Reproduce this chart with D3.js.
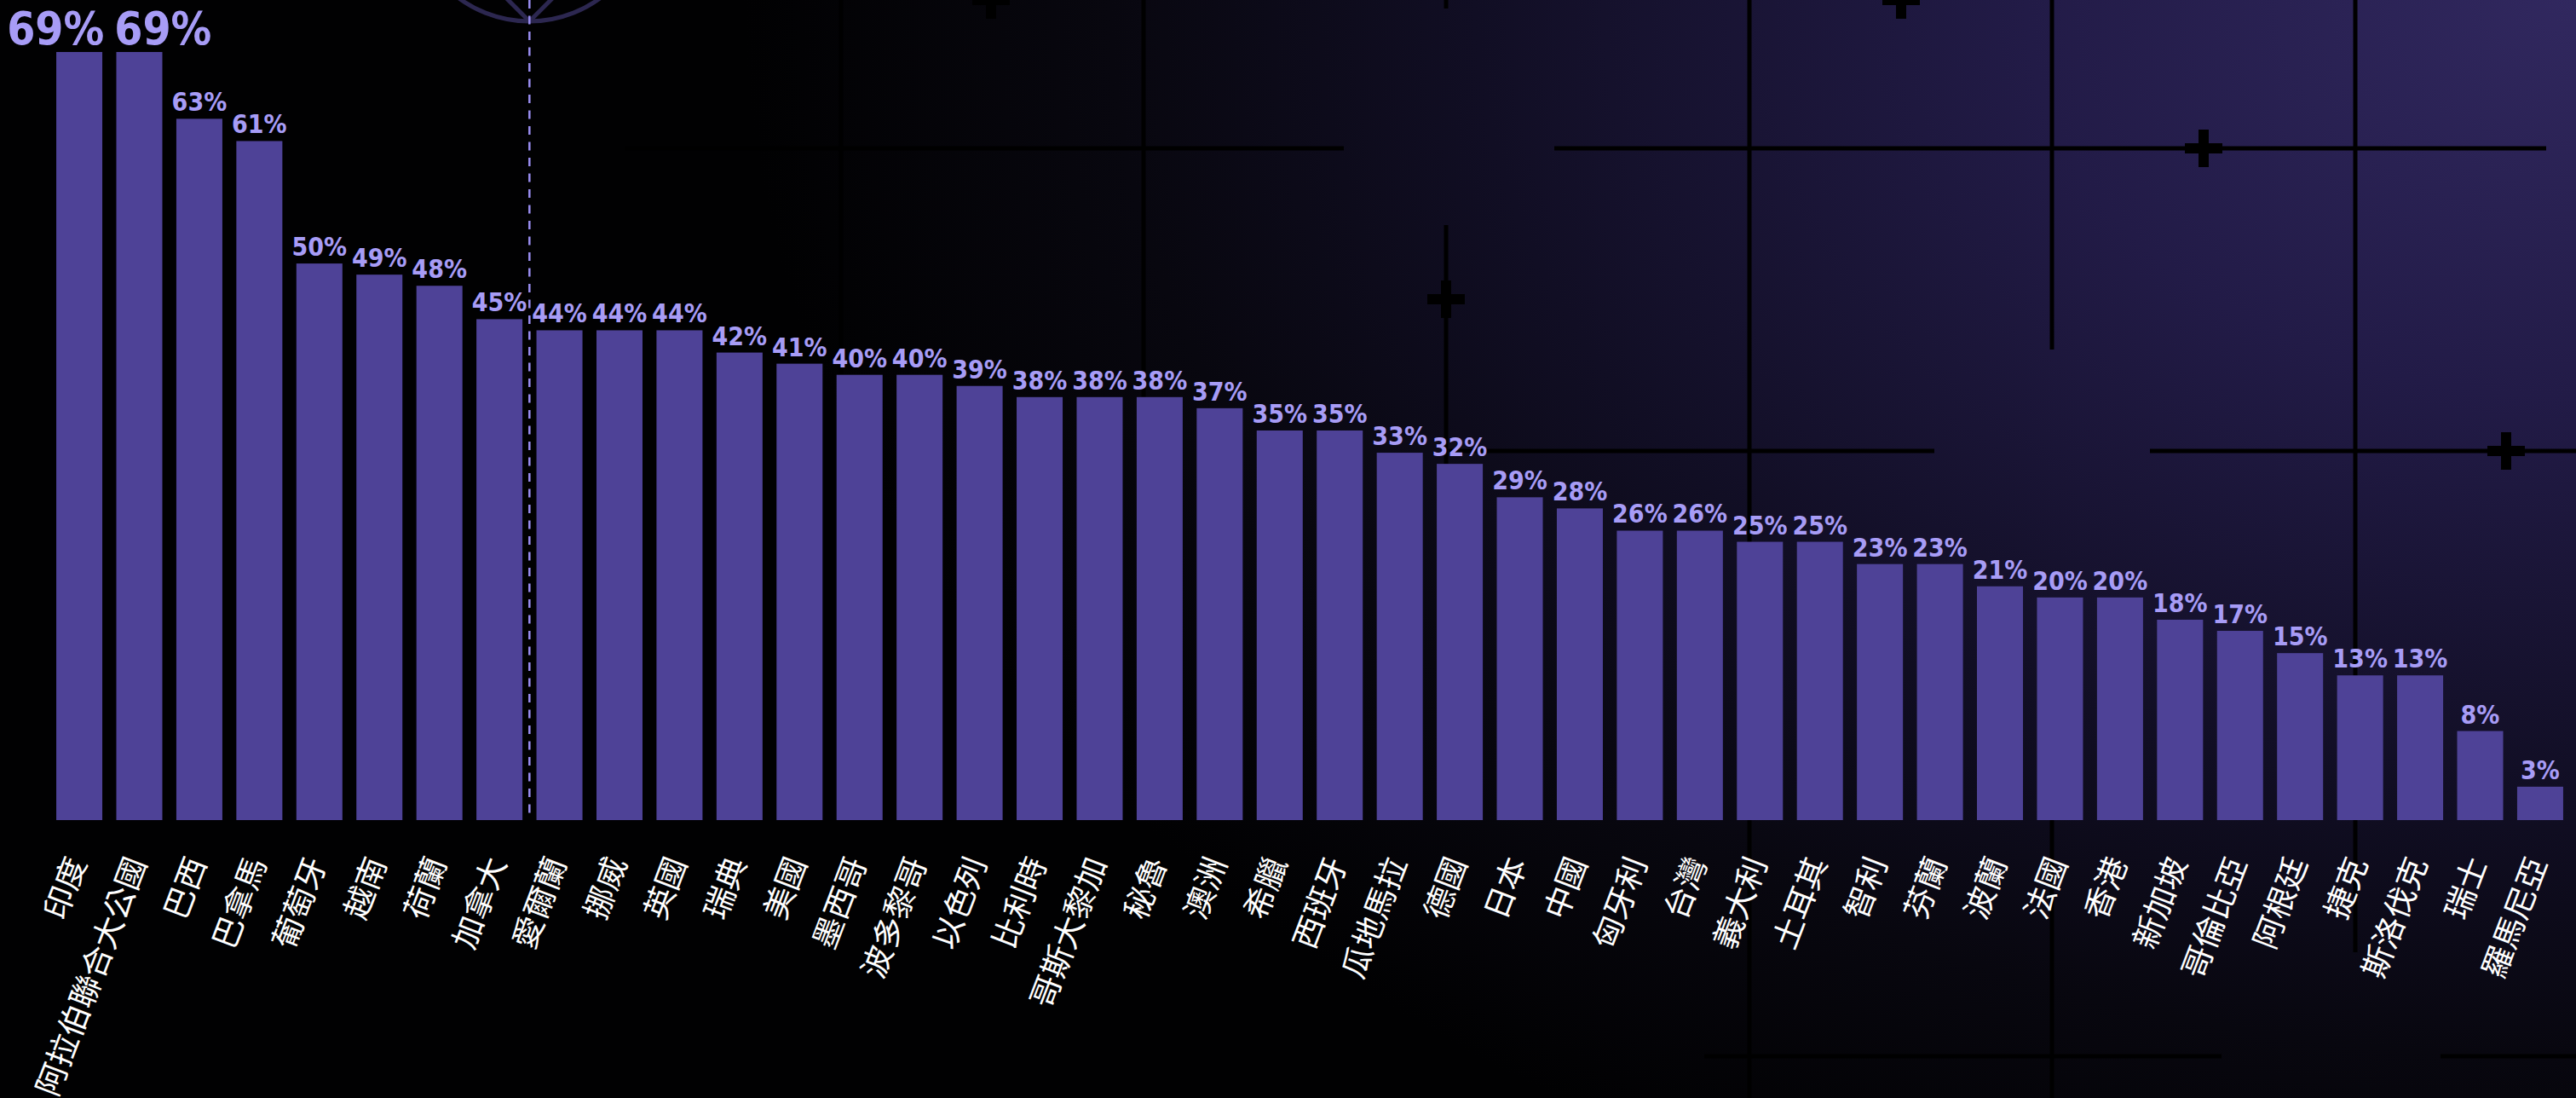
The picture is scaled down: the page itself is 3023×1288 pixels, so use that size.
<!DOCTYPE html>
<html>
<head>
<meta charset="utf-8">
<script src="https://cdn.jsdelivr.net/npm/d3@7"></script>
<style>
html, body { margin: 0; padding: 0; background: #000; overflow: hidden; }
</style>
</head>
<body>
<svg id="chart"></svg>
<script>
// chart data
var countries = ["印度", "阿拉伯聯合大公國", "巴西", "巴拿馬", "葡萄牙", "越南", "荷蘭", "加拿大",
    "愛爾蘭", "挪威", "英國", "瑞典", "美國", "墨西哥", "波多黎哥", "以色列", "比利時", "哥斯大黎加",
    "秘魯", "澳洲", "希臘", "西班牙", "瓜地馬拉", "德國", "日本", "中國", "匈牙利", "台灣", "義大利",
    "土耳其", "智利", "芬蘭", "波蘭", "法國", "香港", "新加坡", "哥倫比亞", "阿根廷", "捷克",
    "斯洛伐克", "瑞士", "羅馬尼亞"];
var shares = [69, 69, 63, 61, 50, 49, 48, 45, 44, 44, 44, 42, 41, 40, 40, 39, 38, 38, 38, 37, 35,
    35, 33, 32, 29, 28, 26, 26, 25, 25, 23, 23, 21, 20, 20, 18, 17, 15, 13, 13, 8, 3];
var dividerAfter = "加拿大";

var svgWidth = 3023;
var svgHeight = 1288;
var baseY = 962;

var barColor = "#4e4297";
var labelColor = "#a79cf6";

var svg = d3.select("#chart").attr("width", svgWidth).attr("height", svgHeight);

// background: dark with purple glow in the top right corner
var defs = svg.append("defs");
var grad = defs.append("radialGradient")
    .attr("id", "bg")
    .attr("gradientUnits", "userSpaceOnUse")
    .attr("cx", 0).attr("cy", 0).attr("r", 1)
    .attr("gradientTransform", "translate(" + svgWidth + ",0) scale(2150,1550)");
[["0", "#31285f"], ["0.3", "#221b47"], ["0.6", "#110e24"], ["0.8", "#08070f"], ["1", "#010102"]]
    .forEach(function(s) {
        grad.append("stop").attr("offset", s[0]).attr("stop-color", s[1]);
    });
svg.append("rect").attr("width", svgWidth).attr("height", svgHeight).attr("fill", "url(#bg)");

// decorative grid lines and crosses
var decoV = [[987, 0, 962], [1342, 0, 962], [1697, 0, 10], [1697, 264, 962], [2053, 0, 1288],
    [2408, 0, 410], [2408, 962, 1288], [2764, 0, 1117]];
var decoH = [[174, 733, 1577], [174, 1824, 2988], [529, 1700, 2270], [529, 2523, 3023],
    [1239, 2000, 2607], [1239, 2864, 3023]];
var decoCross = [[1163, 0], [2231, 0], [2586, 174], [1697, 351], [2941, 529]];

var deco = svg.append("g").attr("class", "deco");
decoV.forEach(function(l) {
    deco.append("line").attr("x1", l[0]).attr("x2", l[0]).attr("y1", l[1]).attr("y2", l[2])
        .attr("stroke", "#000").attr("stroke-width", 5);
});
decoH.forEach(function(l) {
    deco.append("line").attr("y1", l[0]).attr("y2", l[0]).attr("x1", l[1]).attr("x2", l[2])
        .attr("stroke", "#000").attr("stroke-width", 5);
});
decoCross.forEach(function(c) {
    deco.append("rect").attr("x", c[0] - 6).attr("y", c[1] - 22).attr("width", 12).attr("height", 44).attr("fill", "#000");
    deco.append("rect").attr("x", c[0] - 22).attr("y", c[1] - 6).attr("width", 44).attr("height", 12).attr("fill", "#000");
});

// scales
var x = d3.scaleBand()
    .domain(countries)
    .range([59, 3015])
    .paddingInner(0.233)
    .paddingOuter(0.1);

var y = d3.scaleLinear()
    .domain([0, 69])
    .range([baseY, 61]);

// divider between two groups of bars
var divX = x(dividerAfter) + x.bandwidth() + (x.step() - x.bandwidth()) / 2;

// compass-like circle at the top of the divider
var icon = svg.append("g").attr("fill", "none").attr("stroke", "#2c2750").attr("stroke-width", 5);
icon.append("circle").attr("cx", divX).attr("cy", -115).attr("r", 140);
icon.append("line").attr("x1", divX).attr("y1", 25).attr("x2", divX - 30).attr("y2", -5);
icon.append("line").attr("x1", divX).attr("y1", 25).attr("x2", divX + 30).attr("y2", -5);

svg.append("line")
    .attr("x1", divX).attr("x2", divX)
    .attr("y1", 0).attr("y2", baseY)
    .attr("stroke", "#9a8ef2")
    .attr("stroke-width", 2.5)
    .attr("stroke-dasharray", "10,8.5");

// bars
var data = countries.map(function(c, i) { return { name: c, value: shares[i] }; });

svg.append("g")
    .selectAll("rect")
    .data(data)
    .enter()
    .append("rect")
    .attr("x", function(d) { return x(d.name); })
    .attr("y", function(d) { return y(d.value); })
    .attr("width", x.bandwidth())
    .attr("height", function(d) { return baseY - y(d.value); })
    .attr("fill", barColor);

// value labels
var maxValue = d3.max(shares);
function labelSize(d) { return d.value === maxValue ? 53 : 30; }

var labels = svg.append("g")
    .selectAll("text")
    .data(data)
    .enter()
    .append("text")
    .attr("y", function(d) { return y(d.value) - 9; })
    .attr("text-anchor", "start")
    .attr("fill", labelColor)
    .style("font-family", "'DejaVu Sans Condensed', 'DejaVu Sans', sans-serif")
    .style("font-stretch", "condensed")
    .style("font-weight", "bold")
    .style("font-size", function(d) { return labelSize(d) + "px"; })
    .text(function(d) { return d.value + "%"; });

// squeeze if the condensed face is missing, then centre and push overlapping labels apart
var lw = [], lx = [], ly = [];
labels.each(function(d, i) {
    var w = this.getComputedTextLength();
    var target = labelSize(d) * 2.154;
    if (w > target * 1.04) {
        d3.select(this).attr("textLength", target).attr("lengthAdjust", "spacingAndGlyphs");
        w = target;
    }
    lw[i] = w;
    ly[i] = y(d.value) - 9;
    lx[i] = x(d.name) + x.bandwidth() / 2 - w / 2;
});
for (var i = 0; i < lx.length - 1; i++) {
    var overlap = lx[i] + lw[i] - lx[i + 1];
    var sameRow = Math.abs(ly[i] - ly[i + 1]) < 30;
    if (overlap > 0 && sameRow) {
        var shift = (overlap + 12) / 2;
        lx[i] -= shift;
        lx[i + 1] += shift;
    }
}
labels.attr("x", function(d, i) { return lx[i]; });

// category labels
svg.append("g")
    .selectAll("text")
    .data(countries)
    .enter()
    .append("text")
    .attr("transform", function(d) {
        return "translate(" + (x(d) + x.bandwidth() / 2 + 9) + "," + 1012 + ") rotate(-69)";
    })
    .attr("text-anchor", "end")
    .attr("fill", "#ffffff")
    .style("font-family", "'Noto Sans CJK TC', 'Noto Sans CJK SC', sans-serif")
    .style("font-size", "37px")
    .text(function(d) { return d; });
</script>
</body>
</html>
